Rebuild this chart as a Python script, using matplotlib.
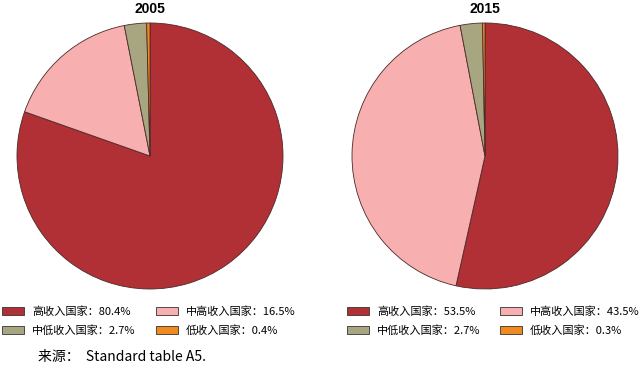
import matplotlib.pyplot as plt
from matplotlib.patches import Patch

plt.rcParams['font.family'] = ['Noto Sans CJK SC', 'DejaVu Sans']

categories = ['高收入国家', '中高收入国家', '中低收入国家', '低收入国家']
years = ['2005', '2015']
shares_2005 = [80.4, 16.5, 2.7, 0.4]
shares_2015 = [53.5, 43.5, 2.7, 0.3]
colors = ['#B03035', '#F7AFAF', '#A8A680', '#F08A1C']

fig = plt.figure(figsize=(6.4, 3.72), dpi=100)

W, H = 640, 372
r = 133
centers = [(150, 156), (485, 156)]
legend_cols = [(2, 156), (347, 500)]

for (cx, cy), year, shares, cols in zip(centers, years, [shares_2005, shares_2015], legend_cols):
    ax = fig.add_axes([(cx - r) / W, (H - cy - r) / H, 2 * r / W, 2 * r / H])
    ax.pie(shares, colors=colors, startangle=90, counterclock=False,
           wedgeprops=dict(edgecolor='#4a2a2a', linewidth=0.6))
    ax.set_xlim(-1, 1)
    ax.set_ylim(-1, 1)
    ax.set_title(year, fontsize=10, fontweight='bold', pad=7,
                 family=['Liberation Sans', 'DejaVu Sans'])

    handles = [Patch(facecolor=c, edgecolor='#333333', linewidth=0.6) for c in colors]
    labels = [f'{n}：{v}%' for n, v in zip(categories, shares)]
    # left column: high, mid-low; right column: mid-high, low
    for idx, lx in zip([[0, 2], [1, 3]], cols):
        fig.legend([handles[i] for i in idx], [labels[i] for i in idx],
                   loc='upper left', bbox_to_anchor=(lx / W, (H - 306) / H),
                   frameon=False, fontsize=8, handlelength=2.0, handleheight=0.75,
                   handletextpad=0.7, labelspacing=0.8,
                   borderaxespad=0, borderpad=0)

fig.text(38 / W, (H - 357) / H, '来源：  Standard table A5.', fontsize=10,
         va='center', ha='left')

fig.savefig('out.png', dpi=100)
